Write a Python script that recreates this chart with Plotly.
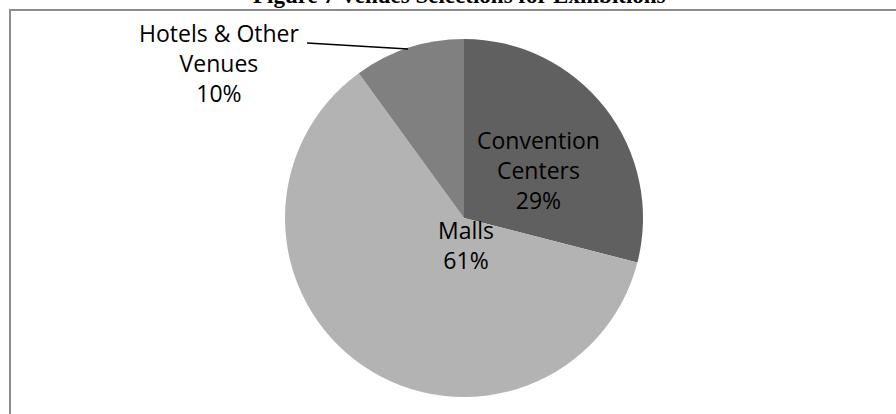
import plotly.graph_objects as go

categories = ["Convention Centers", "Malls", "Hotels & Other Venues"]
values = [29, 61, 10]
colors = ["#606060", "#b3b3b3", "#808080"]
title_text = "Figure 7 Venues Selections for Exhibitions"

W, H = 896, 414
def px(x): return x / W
def py(y): return 1 - y / H

cx, cy, r = 464, 218, 179

fig = go.Figure(go.Pie(
    labels=categories, values=values, sort=False, direction="clockwise",
    rotation=0, marker=dict(colors=colors, line=dict(width=0)),
    textinfo="none", hoverinfo="label+percent", showlegend=False,
    domain=dict(x=[px(cx - r), px(cx + r)], y=[py(cy + r), py(cy - r)]),
))

font = dict(family="Open Sans, Lato, sans-serif", size=23, color="#000000")
label_pos = [(538, 170, ["Convention", "Centers"]), (466, 245, ["Malls"]), (219, 63, ["Hotels & Other", "Venues"])]
for (x, y, lines), v in zip(label_pos, values):
    text = "<br>".join(lines + [f"{v}%"])
    fig.add_annotation(x=px(x), y=py(y), xref="paper", yref="paper", text=text,
                       showarrow=False, font=font, xanchor="center", yanchor="middle", align="center")

# leader line for Hotels label
fig.add_shape(type="line", xref="paper", yref="paper", x0=px(307), y0=py(43), x1=px(408), y1=py(49),
              line=dict(color="#000000", width=1.5))

# frame
fig.add_shape(type="line", xref="paper", yref="paper", x0=px(9), y0=py(10), x1=px(900), y1=py(10),
              line=dict(color="#8c8c8c", width=2))
fig.add_shape(type="line", xref="paper", yref="paper", x0=px(10), y0=py(9), x1=px(10), y1=py(420),
              line=dict(color="#8c8c8c", width=2))

fig.add_annotation(x=px(460), y=py(-4), xref="paper", yref="paper", text=f"<b>{title_text}</b>",
                   showarrow=False, font=dict(family="Liberation Serif, Times New Roman, serif", size=23, color="#000"),
                   xanchor="center", yanchor="middle")

fig.update_layout(width=W, height=H, margin=dict(l=0, r=0, t=0, b=0),
                  paper_bgcolor="white", plot_bgcolor="white")
fig.write_html("out.html", config={"displayModeBar": False},
               post_script="document.body.style.margin='0';document.body.style.overflow='hidden';")
